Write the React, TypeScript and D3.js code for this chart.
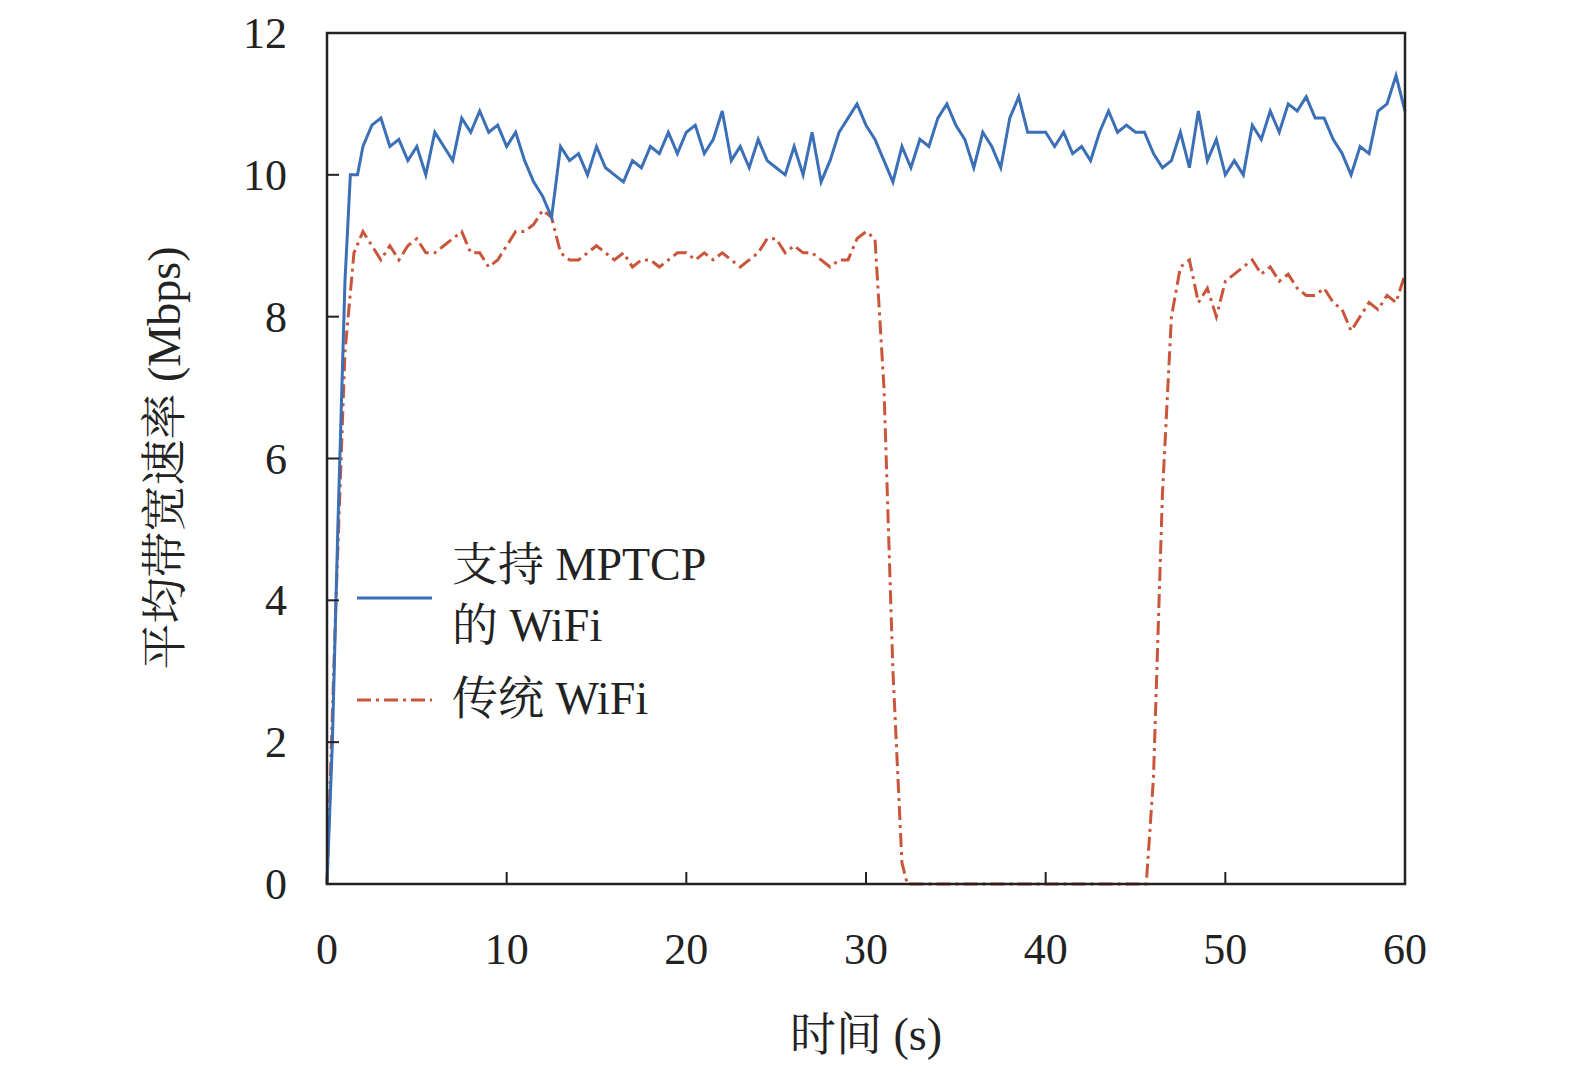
import * as d3 from 'd3'

const blueT = [0, 0.3, 0.6, 1, 1.3, 1.7, 2, 2.5, 3, 3.5, 4, 4.5, 5, 5.5, 6, 6.5, 7, 7.5, 8, 8.5, 9, 9.5, 10, 10.5, 11, 11.5, 12, 12.5, 13, 13.5, 14, 14.5, 15, 15.5, 16, 16.5, 17, 17.5, 18, 18.5, 19, 19.5, 20, 20.5, 21, 21.5, 22, 22.5, 23, 23.5, 24, 24.5, 25, 25.5, 26, 26.5, 27, 27.5, 28, 28.5, 29, 29.5, 30, 30.5, 31, 31.5, 32, 32.5, 33, 33.5, 34, 34.5, 35, 35.5, 36, 36.5, 37, 37.5, 38, 38.5, 39, 39.5, 40, 40.5, 41, 41.5, 42, 42.5, 43, 43.5, 44, 44.5, 45, 45.5, 46, 46.5, 47, 47.5, 48, 48.5, 49, 49.5, 50, 50.5, 51, 51.5, 52, 52.5, 53, 53.5, 54, 54.5, 55, 55.5, 56, 56.5, 57, 57.5, 58, 58.5, 59, 59.5, 60]
const blueV = [0, 2, 5, 8.5, 10, 10, 10.4, 10.7, 10.8, 10.4, 10.5, 10.2, 10.4, 10.0, 10.6, 10.4, 10.2, 10.8, 10.6, 10.9, 10.6, 10.7, 10.4, 10.6, 10.2, 9.9, 9.7, 9.4, 10.4, 10.2, 10.3, 10.0, 10.4, 10.1, 10.0, 9.9, 10.2, 10.1, 10.4, 10.3, 10.6, 10.3, 10.6, 10.7, 10.3, 10.5, 10.9, 10.2, 10.4, 10.1, 10.5, 10.2, 10.1, 10.0, 10.4, 10.0, 10.6, 9.9, 10.2, 10.6, 10.8, 11.0, 10.7, 10.5, 10.2, 9.9, 10.4, 10.1, 10.5, 10.4, 10.8, 11.0, 10.7, 10.5, 10.1, 10.6, 10.4, 10.1, 10.8, 11.1, 10.6, 10.6, 10.6, 10.4, 10.6, 10.3, 10.4, 10.2, 10.6, 10.9, 10.6, 10.7, 10.6, 10.6, 10.3, 10.1, 10.2, 10.6, 10.1, 10.9, 10.2, 10.5, 10.0, 10.2, 10.0, 10.7, 10.5, 10.9, 10.6, 11.0, 10.9, 11.1, 10.8, 10.8, 10.5, 10.3, 10.0, 10.4, 10.3, 10.9, 11.0, 11.4, 10.9]

const redT = [0, 0.5, 1, 1.5, 2, 2.5, 3, 3.5, 4, 4.5, 5, 5.5, 6, 6.5, 7, 7.5, 8, 8.5, 9, 9.5, 10, 10.5, 11, 11.5, 12, 12.5, 13, 13.5, 14, 14.5, 15, 15.5, 16, 16.5, 17, 17.5, 18, 18.5, 19, 19.5, 20, 20.5, 21, 21.5, 22, 22.5, 23, 23.5, 24, 24.5, 25, 25.5, 26, 26.5, 27, 27.5, 28, 28.5, 29, 29.5, 30, 30.5, 31, 31.5, 32, 32.3, 45.6, 46, 46.5, 47, 47.5, 48, 48.5, 49, 49.5, 50, 50.5, 51, 51.5, 52, 52.5, 53, 53.5, 54, 54.5, 55, 55.5, 56, 56.5, 57, 57.5, 58, 58.5, 59, 59.5, 60]
const redV = [0, 4, 7.5, 8.9, 9.2, 9.0, 8.8, 9.0, 8.8, 9.0, 9.1, 8.9, 8.9, 9.0, 9.1, 9.2, 8.9, 8.9, 8.7, 8.8, 9.0, 9.2, 9.2, 9.3, 9.5, 9.4, 8.9, 8.8, 8.8, 8.9, 9.0, 8.9, 8.8, 8.9, 8.7, 8.8, 8.8, 8.7, 8.8, 8.9, 8.9, 8.8, 8.9, 8.8, 8.9, 8.8, 8.7, 8.8, 8.9, 9.1, 9.1, 8.9, 9.0, 8.9, 8.9, 8.8, 8.7, 8.8, 8.8, 9.1, 9.2, 9.1, 7.0, 3.0, 0.3, 0, 0, 1.5, 5.5, 8.0, 8.7, 8.8, 8.2, 8.4, 8.0, 8.5, 8.6, 8.7, 8.8, 8.6, 8.7, 8.5, 8.6, 8.4, 8.3, 8.3, 8.4, 8.2, 8.1, 7.8, 8.0, 8.2, 8.1, 8.3, 8.2, 8.6]

const xTicks = [0, 10, 20, 30, 40, 50, 60]
const yTicks = [0, 2, 4, 6, 8, 10, 12]

const BLUE = '#3b6fb6'
const RED = '#c9553b'
const serif = '"Liberation Serif", "Times New Roman", "Noto Serif CJK SC", "Noto Sans CJK SC", serif'

export default function App() {
  const W = 1575, H = 1077
  const L = 327, R = 1405, T = 33, B = 884
  const x = d3.scaleLinear().domain([0, 60]).range([L, R])
  const y = d3.scaleLinear().domain([0, 12]).range([B, T])
  const line = d3.line<[number, number]>().x(d => x(d[0])).y(d => y(d[1]))
  const blue = line(blueT.map((t, i) => [t, blueV[i]]))!
  const red = line(redT.map((t, i) => [t, redV[i]]))!

  return (
    <svg width={W} height={H} style={{ position: 'absolute', left: 0, top: 0, background: '#fff' }} fontFamily={serif}>
      <path d={red} fill="none" stroke={RED} strokeWidth={3} strokeDasharray="14,5,3,5" />
      <path d={blue} fill="none" stroke={BLUE} strokeWidth={3} />
      <rect x={L} y={T} width={R - L} height={B - T} fill="none" stroke="#222" strokeWidth={2.5} />
      {xTicks.map(t => (
        <g key={t}>
          <line x1={x(t)} x2={x(t)} y1={B} y2={B - 12} stroke="#222" strokeWidth={2} />
          <text x={x(t)} y={B + 80} textAnchor="middle" fontSize={44} fill="#222">{t}</text>
        </g>
      ))}
      {yTicks.map(t => (
        <g key={t}>
          <line x1={L} x2={L + 12} y1={y(t)} y2={y(t)} stroke="#222" strokeWidth={2} />
          <text x={L - 40} y={y(t) + 15} textAnchor="end" fontSize={44} fill="#222">{t}</text>
        </g>
      ))}
      <text x={866} y={1050} textAnchor="middle" fontSize={46} fill="#222">时间 (s)</text>
      <text transform={`translate(180,458) rotate(-90)`} textAnchor="middle" fontSize={46} fill="#222">平均带宽速率 (Mbps)</text>
      <line x1={357} x2={432} y1={598} y2={598} stroke={BLUE} strokeWidth={3} />
      <text x={452} y={580} fontSize={46} fill="#222">支持 MPTCP</text>
      <text x={452} y={641} fontSize={46} fill="#222">的 WiFi</text>
      <line x1={357} x2={432} y1={700} y2={700} stroke={RED} strokeWidth={3} strokeDasharray="14,5,3,5" />
      <text x={452} y={714} fontSize={46} fill="#222">传统 WiFi</text>
    </svg>
  )
}
